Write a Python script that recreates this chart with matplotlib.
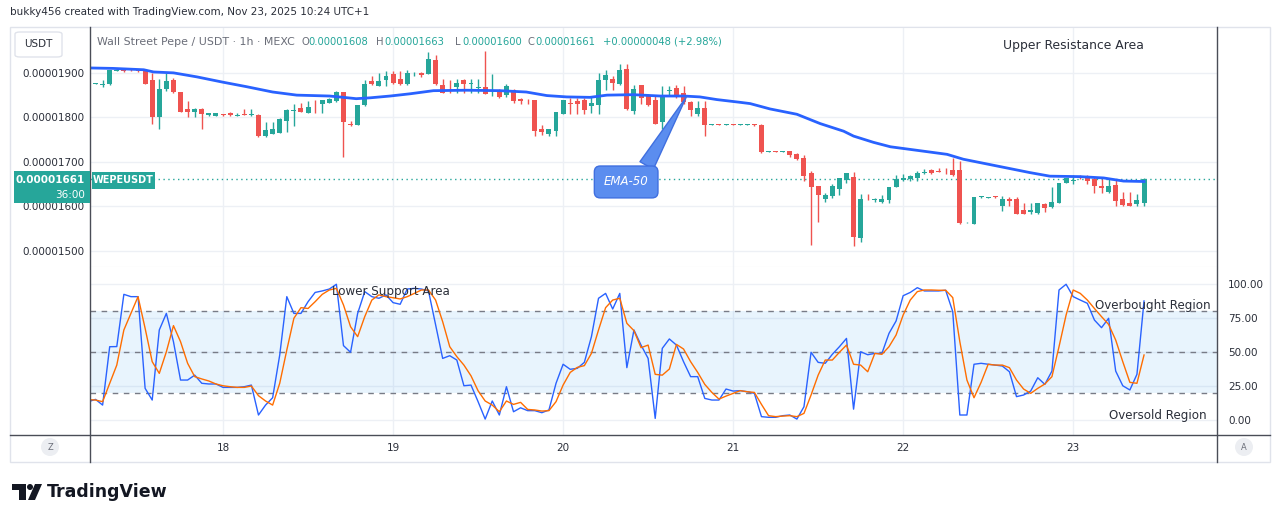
import numpy as np
import matplotlib
matplotlib.use("Agg")
import matplotlib.pyplot as plt
from matplotlib.patches import Rectangle, FancyBboxPatch, Ellipse, Polygon
from matplotlib.lines import Line2D

plt.rcParams['font.family'] = ['DejaVu Sans']

# hourly candles, index 0 = 17 Nov 06:00, prices in units of 1e-8 USDT
opens = [1875, 1873, 1874, 1905, 1907, 1907, 1906, 1904, 1885, 1801,
         1863, 1883, 1857, 1818, 1812, 1818, 1805, 1803, 1806, 1810,
         1804, 1807, 1806, 1806, 1758, 1763, 1765, 1792, 1815, 1820,
         1810, 1835, 1831, 1833, 1836, 1857, 1786, 1784, 1827, 1881,
         1870, 1884, 1898, 1887, 1874, 1899, 1900, 1898, 1930, 1872,
         1862, 1869, 1885, 1874, 1866, 1869, 1859, 1857, 1850, 1861,
         1842, 1837, 1839, 1775, 1762, 1769, 1807, 1832, 1836, 1840,
         1825, 1827, 1884, 1887, 1874, 1909, 1814, 1872, 1851, 1839,
         1789, 1859, 1866, 1854, 1834, 1807, 1822, 1783, 1784, 1783,
         1784, 1783, 1783, 1784, 1784, 1723, 1724, 1723, 1724, 1717,
         1709, 1676, 1646, 1616, 1623, 1640, 1659, 1667, 1529, 1617,
         1615, 1610, 1614, 1644, 1659, 1661, 1664, 1674, 1681, 1680,
         1680, 1681, 1681, 1564, 1561, 1621, 1619, 1622, 1602, 1616,
         1616, 1593, 1587, 1585, 1605, 1599, 1608, 1653, 1658, 1667,
         1666, 1662, 1646, 1632, 1648, 1617, 1607, 1606, 1608]
highs = [1877, 1884, 1907, 1908, 1908, 1908, 1907, 1907, 1900, 1887,
         1900, 1889, 1858, 1836, 1821, 1820, 1810, 1810, 1807, 1811,
         1810, 1818, 1819, 1807, 1790, 1789, 1798, 1818, 1831, 1833,
         1836, 1838, 1838, 1843, 1859, 1858, 1793, 1828, 1885, 1893,
         1900, 1904, 1904, 1904, 1906, 1901, 1901, 1947, 1941, 1887,
         1885, 1887, 1887, 1887, 1887, 1950, 1898, 1864, 1874, 1863,
         1844, 1842, 1840, 1784, 1774, 1813, 1840, 1844, 1844, 1844,
         1848, 1900, 1907, 1893, 1919, 1919, 1872, 1872, 1852, 1849,
         1870, 1870, 1872, 1870, 1836, 1836, 1836, 1785, 1785, 1785,
         1785, 1785, 1785, 1786, 1785, 1725, 1725, 1725, 1725, 1719,
         1716, 1680, 1647, 1631, 1650, 1665, 1676, 1678, 1627, 1627,
         1620, 1625, 1644, 1670, 1672, 1670, 1679, 1684, 1683, 1686,
         1686, 1709, 1702, 1566, 1622, 1623, 1621, 1623, 1623, 1621,
         1621, 1607, 1607, 1608, 1608, 1643, 1653, 1664, 1670, 1670,
         1670, 1666, 1662, 1662, 1659, 1632, 1632, 1627, 1663]
lows = [1875, 1869, 1873, 1904, 1903, 1905, 1903, 1874, 1786, 1774,
        1859, 1855, 1811, 1800, 1800, 1775, 1804, 1802, 1804, 1804,
        1803, 1805, 1804, 1756, 1757, 1762, 1764, 1767, 1780, 1812,
        1810, 1810, 1810, 1832, 1835, 1711, 1780, 1783, 1826, 1872,
        1870, 1870, 1876, 1872, 1872, 1893, 1891, 1897, 1873, 1854,
        1855, 1855, 1855, 1855, 1855, 1852, 1848, 1844, 1845, 1833,
        1831, 1829, 1759, 1760, 1759, 1759, 1807, 1807, 1807, 1807,
        1810, 1807, 1861, 1861, 1873, 1816, 1807, 1831, 1826, 1785,
        1774, 1848, 1844, 1831, 1804, 1804, 1759, 1782, 1782, 1782,
        1782, 1782, 1782, 1780, 1721, 1722, 1722, 1722, 1711, 1705,
        1657, 1513, 1565, 1610, 1619, 1625, 1652, 1511, 1520, 1615,
        1609, 1607, 1607, 1643, 1657, 1657, 1657, 1672, 1673, 1677,
        1672, 1669, 1560, 1562, 1560, 1620, 1618, 1620, 1590, 1601,
        1584, 1582, 1582, 1584, 1587, 1597, 1607, 1652, 1650, 1661,
        1650, 1631, 1631, 1631, 1601, 1601, 1601, 1601, 1600]
closes = [1876, 1876, 1906, 1906, 1904, 1906, 1904, 1875, 1801, 1863,
          1881, 1858, 1812, 1812, 1818, 1808, 1809, 1809, 1805, 1805,
          1805, 1806, 1807, 1758, 1771, 1774, 1797, 1816, 1816, 1813,
          1824, 1834, 1838, 1842, 1858, 1789, 1782, 1827, 1876, 1874,
          1881, 1892, 1878, 1874, 1900, 1900, 1896, 1931, 1874, 1855,
          1861, 1878, 1874, 1878, 1867, 1853, 1860, 1845, 1870, 1836,
          1836, 1836, 1769, 1768, 1773, 1812, 1839, 1831, 1829, 1816,
          1833, 1885, 1896, 1878, 1907, 1818, 1864, 1844, 1827, 1786,
          1848, 1860, 1851, 1834, 1816, 1820, 1783, 1784, 1783, 1784,
          1783, 1784, 1784, 1783, 1722, 1724, 1723, 1724, 1715, 1706,
          1668, 1644, 1626, 1625, 1646, 1663, 1676, 1531, 1617, 1616,
          1616, 1616, 1644, 1661, 1664, 1668, 1676, 1677, 1674, 1677,
          1679, 1670, 1562, 1565, 1621, 1622, 1620, 1621, 1617, 1612,
          1584, 1584, 1593, 1607, 1596, 1611, 1652, 1663, 1659, 1666,
          1657, 1646, 1642, 1647, 1612, 1603, 1602, 1614, 1661]

# EMA-50 (candle index, price)
ema_x = [-0.8, 2.5, 6.8, 8.2, 11, 14.3, 18, 21.3, 25, 28.4, 33, 35, 36.8, 38.8,
         41.6, 44.4, 47.7, 52.4, 57.1, 60.8, 63.7, 66.5, 69.8, 72.2, 75.9, 79.7,
         83, 85.3, 87.7, 90.9, 92.4, 95.2, 99, 102.3, 105.6, 107, 109.8, 112.2,
         115.5, 120.2, 122.5, 127.2, 131.9, 134.7, 138.9, 142.3, 145.1, 148]
ema_y = [1911, 1910, 1907, 1902, 1900, 1891, 1879, 1869, 1857, 1850, 1848, 1845,
         1842, 1844, 1848, 1853, 1860, 1861, 1860, 1857, 1849, 1846, 1845, 1850,
         1851, 1848, 1848, 1846, 1840, 1834, 1831, 1819, 1807, 1786, 1769, 1758,
         1744, 1734, 1727, 1717, 1706, 1691, 1676, 1668, 1667, 1664, 1657, 1656]

# stochastic, index -1 .. 148
stoch_k = [13.5, 15.2, 11, 53.9, 54, 92.4, 90.7, 90.7, 23.3, 14.7,
           66.2, 78.4, 57.6, 29.4, 29.4, 33, 27, 26.5, 26.5, 24,
           24, 24, 24.5, 25.7, 3.7, 11, 16.4, 47.8, 90.7, 78.4,
           78.4, 87, 93.8, 94.9, 96.3, 99.8, 54.7, 49.8, 78.4, 94.4,
           90.7, 89.5, 92, 86.3, 85.1, 96.3, 96.8, 96.3, 94.9, 69.9,
           45.3, 47.3, 44.1, 25.2, 25.7, 13.5, 0.7, 14, 3.7, 24.5,
           6.1, 9, 6.9, 6.9, 5.4, 7.4, 27, 41, 37.3, 38,
           42.4, 61.3, 89.5, 93.1, 81.6, 93.1, 38.5, 66.2, 55.1, 45.3,
           1.2, 52.7, 59.6, 55.1, 42.9, 31.9, 31.9, 15.9, 14.7, 14.7,
           22.8, 21.3, 21.6, 20.8, 19.6, 2.5, 2, 2, 3.2, 3.7,
           0.7, 9.8, 49.8, 42.4, 41.7, 48.3, 53.9, 60, 8, 50.2,
           48, 49, 49, 63.7, 72.8, 91.4, 93.8, 97.3, 94.9, 94.9,
           94.9, 95.4, 79.7, 3.7, 3.7, 41, 41.7, 41, 40.4, 39.7,
           35.5, 17.2, 18.4, 21.3, 31.1, 26.2, 36, 95.6, 99.8, 90.7,
           88.2, 85.8, 73.5, 67.9, 74.8, 36, 25.2, 22.1, 33.6, 87.5]
stoch_d = [15, 14.7, 13.5, 27, 40.4, 66.2, 78.4, 90.7, 67.4, 42.9,
           34.3, 50.2, 69.4, 57.6, 41.7, 31.9, 30.2, 28.7, 26.5, 25.2,
           24.5, 24, 24, 25, 17.9, 14, 11, 27, 51.5, 74.8,
           82.6, 82, 87, 92.4, 95.6, 96.8, 84.6, 68.6, 61.3, 76,
           88.2, 92, 90.7, 89.9, 89, 90.7, 93.1, 95.6, 95.6, 88.2,
           72.3, 53.9, 46.6, 40.4, 32.5, 21.5, 14, 11, 6.1, 14,
           11.5, 13, 7.8, 7.4, 6.6, 6.9, 13.5, 25.7, 35, 38.7,
           40, 49, 66.2, 82.6, 88.2, 89.5, 71.1, 65.7, 53.2, 55.1,
           33.6, 33, 37.5, 55.6, 52.2, 42.9, 35, 26.2, 20.3, 15.4,
           17.6, 19.6, 21.6, 20.8, 20.3, 11.5, 3.2, 2.5, 2.9, 3.2,
           2.5, 4.9, 18.4, 33, 44.1, 44.1, 49.8, 55.1, 41, 40.4,
           35.5, 49, 48.3, 53.9, 62.5, 77.2, 88.2, 94.4, 95.6, 95.6,
           95.4, 95.4, 90, 57.6, 29.4, 16.4, 27.7, 41, 40.4, 40.4,
           38.5, 29.4, 22.8, 19.6, 23.3, 26.5, 31.9, 53.9, 77.2, 95.6,
           93.1, 88.2, 82, 76, 70.3, 58.8, 42.9, 27.7, 27, 47.8]

day_idx = [18, 42, 66, 90, 114, 138]
day_labels = ['18', '19', '20', '21', '22', '23']
price_ticks = [1500, 1600, 1700, 1800, 1900]
last_price = 1661

GREEN = '#26a69a'
RED = '#ef5350'
TXT = '#2a2e39'
GRID = '#edf0f5'
DARK = '#4a4d57'

W, H = 1281, 522
fig = plt.figure(figsize=(W / 100, H / 100), dpi=100)


def fx(x):
    return x / W


def fy(y):
    return 1 - y / H


def dot(cx, cy, r, color):
    # round dot given in pixels
    fig.patches.append(Ellipse((fx(cx), fy(cy)), 2 * r / W, 2 * r / H,
                               transform=fig.transFigure, fc=color, ec='none'))


# outer frame
fig.patches.append(Rectangle((fx(10), fy(462)), fx(1260), (462 - 27) / H,
                             transform=fig.transFigure, fc='white', ec='#e0e3eb', lw=1, zorder=-5))

ax = fig.add_axes([fx(90), fy(267), (1217 - 90) / W, (267 - 27) / H])
ax2 = fig.add_axes([fx(90), fy(435), (1217 - 90) / W, (435 - 267) / H])

o = np.array(opens)
c = np.array(closes)
hi = np.array(highs)
lo = np.array(lows)
x = np.arange(len(o))
cols = np.where(c >= o, GREEN, RED)

ax.vlines(x, lo, hi, colors=cols, lw=1, zorder=3)
ax.bar(x, np.maximum(np.abs(c - o), 1.6), bottom=np.minimum(o, c), width=0.7,
       color=cols, zorder=4)
ax.plot(ema_x, ema_y, color='#2962ff', lw=2, zorder=5)
ax.axhline(last_price, color=GREEN, ls=(0, (1, 2.5)), lw=1, zorder=2)

ax.set_xlim(-0.78, 158.3)
ax.set_ylim(1464, 2003)
ax.set_xticks(day_idx)
ax.set_yticks(price_ticks)
ax.set_yticklabels(['%.8f' % (p * 1e-8) for p in price_ticks])
ax.tick_params(axis='y', length=0, pad=4, labelsize=7.5, labelcolor=TXT)
ax.tick_params(axis='x', length=0, labelbottom=False)
ax.grid(True, color=GRID, lw=1)
ax.set_axisbelow(True)
for s in ['top', 'bottom']:
    ax.spines[s].set_color('#e0e3eb')
for s in ['left', 'right']:
    ax.spines[s].set_visible(False)

# stochastic pane
sx = np.arange(-1, len(stoch_k) - 1)
ax2.axhspan(20, 80, color='#2196f3', alpha=0.1, lw=0, zorder=1)
for lvl in [80, 50, 20]:
    ax2.axhline(lvl, color='#787b86', ls=(0, (4, 4)), lw=1, zorder=2)
ax2.plot(sx, stoch_k, color='#2962ff', lw=1, zorder=4)
ax2.plot(sx, stoch_d, color='#ff6d00', lw=1, zorder=4)
ax2.set_xlim(-0.78, 158.3)
ax2.set_ylim(-11, 112.5)
ax2.set_yticks([0, 25, 50, 75, 100])
ax2.set_yticklabels(['0.00', '25.00', '50.00', '75.00', '100.00'])
ax2.yaxis.tick_right()
ax2.tick_params(axis='y', length=0, pad=8, labelsize=7.5, labelcolor=TXT)
ax2.set_xticks(day_idx)
ax2.set_xticklabels(day_labels)
ax2.tick_params(axis='x', length=0, pad=6, labelsize=7.5, labelcolor=TXT)
ax2.grid(True, color=GRID, lw=1)
ax2.set_axisbelow(True)
for s in ax2.spines.values():
    s.set_visible(False)

# separators
for xx in [90, 1217]:
    fig.add_artist(Line2D([fx(xx), fx(xx)], [fy(27), fy(462)], color=DARK, lw=1))
fig.add_artist(Line2D([fx(10), fx(1270)], [fy(435), fy(435)], color=DARK, lw=1))

# header
fig.text(fx(10), fy(12), 'bukky456 created with TradingView.com, Nov 23, 2025 10:24 UTC+1',
         fontsize=7.5, color=TXT, va='center')
fig.text(fx(97), fy(42), 'Wall Street Pepe / USDT \u00b7 1h \u00b7 MEXC', fontsize=7.9,
         color='#6a6d78', va='center')
for lab, xl, val, xv in [('O', 302, '0.00001608', 308), ('H', 376, '0.00001663', 384),
                         ('L', 455, '0.00001600', 462), ('C', 528, '0.00001661', 535)]:
    fig.text(fx(xl), fy(42), lab, fontsize=7.2, color='#6a6d78', va='center')
    fig.text(fx(xv), fy(42), val, fontsize=7.2, color=GREEN, va='center')
fig.text(fx(603), fy(42), '+0.00000048 (+2.98%)', fontsize=7.2, color=GREEN, va='center')

# USDT box
fig.patches.append(FancyBboxPatch((fx(15), fy(57)), fx(47), (57 - 32) / H,
                                  boxstyle='round,pad=0,rounding_size=0.004',
                                  transform=fig.transFigure, fc='white', ec='#e0e3eb', lw=1))
fig.text(fx(38), fy(44.5), 'USDT', fontsize=7.5, color=TXT, ha='center', va='center')

# last price labels
fig.patches.append(Rectangle((fx(14), fy(203)), fx(76), 32 / H, transform=fig.transFigure,
                             fc=GREEN, ec='none', zorder=5))
fig.text(fx(85), fy(180), '0.00001661', fontsize=7.5, color='white', ha='right',
         va='center', fontweight='bold', zorder=6)
fig.text(fx(85), fy(195), '36:00', fontsize=7.5, color='white', ha='right', va='center', zorder=6)
fig.patches.append(Rectangle((fx(92), fy(189)), fx(63), 17 / H, transform=fig.transFigure,
                             fc=GREEN, ec='none', zorder=5))
fig.text(fx(123.5), fy(180.5), 'WEPEUSDT', fontsize=7, color='white', ha='center',
         va='center', fontweight='bold', zorder=6)

# annotations
fig.text(fx(1003), fy(45), 'Upper Resistance Area', fontsize=8.9, color=TXT, va='center')
fig.text(fx(332), fy(291), 'Lower Support Area', fontsize=8.6, color=TXT, va='center', zorder=6)
fig.text(fx(1095), fy(306), 'Overbought Region', fontsize=8.6, color=TXT, va='center', zorder=6)
fig.text(fx(1109), fy(415), 'Oversold Region', fontsize=8.6, color=TXT, va='center', zorder=6)

ax.annotate('EMA-50', xy=(83.4, 1846), xytext=(74.9, 1655), fontsize=8.5, color='white',
            style='italic', ha='center', va='center', zorder=8,
            bbox=dict(boxstyle='round,pad=0.8,rounding_size=0.5', fc='#5b8def', ec='#3f6fe0', lw=1),
            arrowprops=dict(arrowstyle='wedge,tail_width=1.3,shrink_factor=0.5', fc='#5b8def',
                            ec='#3f6fe0', lw=1, relpos=(0.82, 0.95), shrinkA=0, shrinkB=0))

# Z and A buttons
for cx, t in [(50, 'Z'), (1244, 'A')]:
    dot(cx, 447, 9, '#eceef2')
    fig.text(fx(cx), fy(447), t, fontsize=6, color='#6a6d78', ha='center', va='center')

# TradingView logo
fig.patches.append(Polygon([[fx(12), fy(484)], [fx(26), fy(484)], [fx(26), fy(500)],
                            [fx(19), fy(500)], [fx(19), fy(490)], [fx(12), fy(490)]],
                           closed=True, transform=fig.transFigure, fc='#131722', ec='none'))
dot(30, 487, 3, '#131722')
fig.patches.append(Polygon([[fx(35), fy(484)], [fx(42), fy(484)], [fx(35), fy(500)],
                            [fx(28), fy(500)]], closed=True, transform=fig.transFigure,
                           fc='#131722', ec='none'))
fig.text(fx(47), fy(492), 'TradingView', fontsize=12.5, fontweight='bold', color='#131722',
         va='center')

fig.savefig('out.png', dpi=100, facecolor='white')
